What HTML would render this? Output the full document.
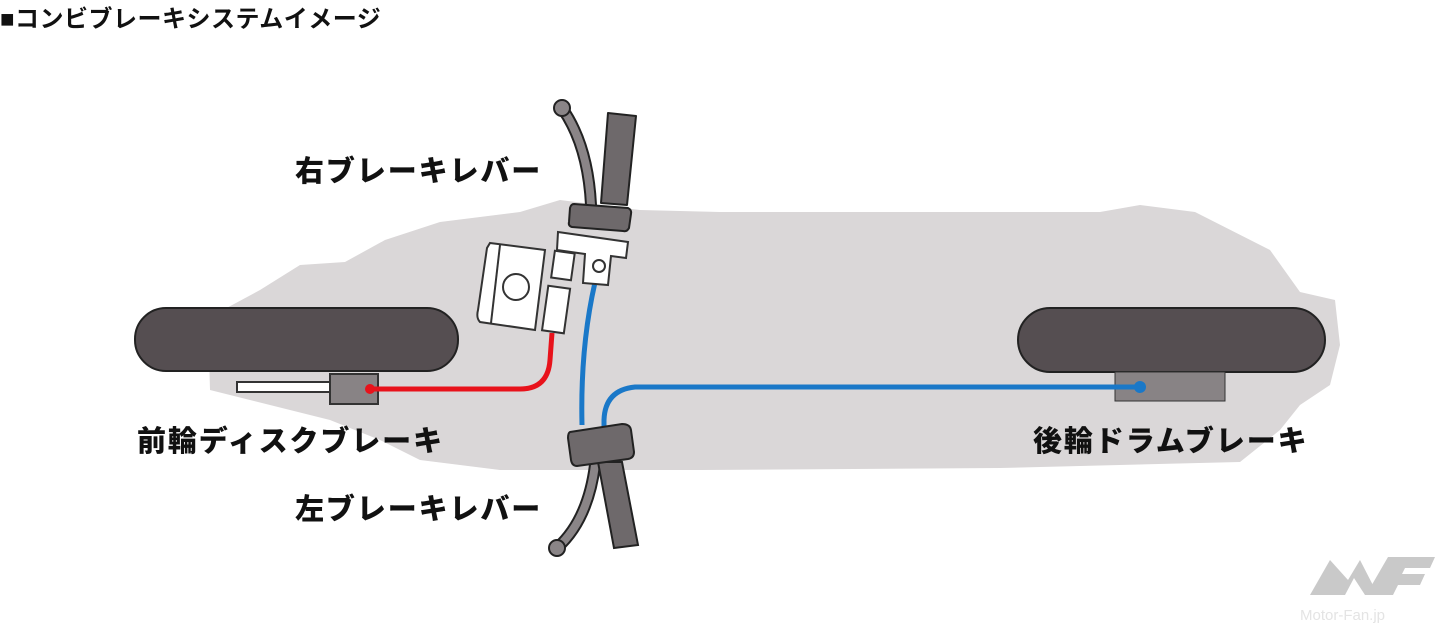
<!DOCTYPE html>
<html><head><meta charset="utf-8"><style>
body{margin:0;width:1444px;height:635px;background:#fff;overflow:hidden;position:relative;font-family:"Liberation Sans","Noto Sans CJK JP",sans-serif}
.t{position:absolute;font-weight:900;font-size:29px;color:#111;white-space:nowrap;letter-spacing:1.9px}
</style></head><body>
<svg width="1444" height="635" style="position:absolute;left:0;top:0">
<path d="M208,318 L260,290 L300,265 L345,262 L385,240 L440,222 L520,212 L560,200 L640,210 L720,212 L1100,212 L1140,205 L1195,212 L1270,250 L1300,292 L1335,300 L1340,345 L1330,385 L1300,405 L1280,430 L1240,462 L1000,468 L700,470 L500,470 L420,460 L380,440 L330,420 L290,410 L250,400 L210,390 Z" fill="#dad7d8"/>
<rect x="135" y="308" width="323" height="63" rx="31" fill="#554e51" stroke="#222" stroke-width="2"/>
<rect x="1018" y="308" width="307" height="64" rx="32" fill="#554e51" stroke="#222" stroke-width="2"/>
<rect x="237" y="382" width="122" height="10" fill="#fff" stroke="#333" stroke-width="2"/>
<rect x="330" y="374" width="48" height="30" fill="#888385" stroke="#333" stroke-width="2"/>
<rect x="1115" y="372" width="110" height="29" fill="#888385" stroke="#333" stroke-width="1"/>
<path d="M370,389 L520,389 Q548,389 550,360 L552,333" stroke="#e8121b" stroke-width="5" fill="none"/>
<circle cx="370" cy="389" r="5" fill="#e8121b"/>
<path d="M598,270 Q580,340 582,425" stroke="#1a78c8" stroke-width="5" fill="none"/>
<path d="M1140,387 L635,387 Q605,390 604,420 L604,428" stroke="#1a78c8" stroke-width="5" fill="none"/>
<circle cx="1140" cy="387" r="6" fill="#1a78c8"/>
<g stroke="#333" stroke-width="2" fill="#fff">
<path d="M490,243 L545,250 L535,330 L480,322 Q476,318 478,310 L487,248 Z"/>
<line x1="500" y1="245" x2="491" y2="323"/>
<circle cx="516" cy="287" r="13"/>
<rect x="553" y="252" width="20" height="27" transform="rotate(8 563 265)"/>
<rect x="545" y="287" width="22" height="45" transform="rotate(8 556 310)"/>
<path d="M558,232 L628,242 L626,258 L611,256 L608,285 L583,283 L585,254 L557,250 Z"/>
<circle cx="599" cy="266" r="6"/>
</g>
<path d="M562,108 Q588,145 591,205" stroke="#222" stroke-width="12" fill="none" stroke-linecap="round"/>
<path d="M562,108 Q588,145 591,205" stroke="#8a8587" stroke-width="8" fill="none" stroke-linecap="round"/>
<circle cx="562" cy="108" r="8" fill="#8a8587" stroke="#222" stroke-width="2"/>
<g stroke="#222" stroke-width="2">
<path d="M608,113 L636,116 L627,205 L601,203 Z" fill="#6e696b" stroke-linejoin="round"/>
<path d="M574,204 L628,208 Q632,210 631,214 L629,228 Q627,232 623,231 L572,227 Q568,226 569,222 L570,208 Q571,204 574,204 Z" fill="#6e696b"/>
</g>
<path d="M595,465 Q588,520 557,548" stroke="#222" stroke-width="12" fill="none" stroke-linecap="round"/>
<path d="M595,465 Q588,520 557,548" stroke="#8a8587" stroke-width="8" fill="none" stroke-linecap="round"/>
<circle cx="557" cy="548" r="8" fill="#8a8587" stroke="#222" stroke-width="2"/>
<g stroke="#222" stroke-width="2">
<path d="M598,462 L622,462 L638,545 L614,548 Z" fill="#6e696b"/>
<path d="M570,432 L622,424 Q630,424 631,430 L634,452 Q634,458 628,459 L577,466 Q572,466 571,460 L568,438 Q568,433 570,432 Z" fill="#6e696b"/>
</g>
<g fill="#c9c9c9">
<path d="M1310,595 L1330,560 L1348,580 L1360,560 L1378,595 L1365,595 L1354,578 L1345,595 Z"/>
<path d="M1366,595 L1388,557 L1435,557 L1430,568 L1405,568 L1402,574 L1425,574 L1420,585 L1398,585 L1393,595 Z"/>
</g>
<text x="1300" y="620" font-size="15" fill="#e4e4e4" font-family="Liberation Sans,sans-serif">Motor-Fan.jp</text>
</svg>
<div style="position:absolute;left:0px;top:-1px;font-size:24px;font-weight:bold;color:#111;white-space:nowrap;letter-spacing:0.5px">■コンビブレーキシステムイメージ</div>
<div class="t" style="left:295px;top:148px">右ブレーキレバー</div>
<div class="t" style="left:137px;top:418px">前輪ディスクブレーキ</div>
<div class="t" style="left:1033px;top:418px">後輪ドラムブレーキ</div>
<div class="t" style="left:295px;top:486px">左ブレーキレバー</div>
</body></html>
